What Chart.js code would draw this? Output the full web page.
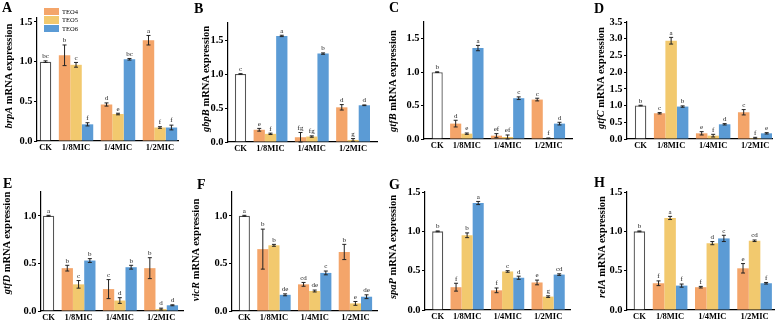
<!DOCTYPE html>
<html>
<head>
<meta charset="utf-8">
<script src="https://cdn.jsdelivr.net/npm/chart.js@4.4.1/dist/chart.umd.min.js"></script>
<style>
  body { margin: 0; background: #fff; width: 777px; height: 322px; position: relative; overflow: hidden; font-family: "Liberation Serif", serif; color: #000; }
  canvas { position: absolute; }
  .letter { position: absolute; font-weight: bold; font-size: 14px; line-height: 1; }
  .ytitle { position: absolute; font-weight: bold; font-size: 10.5px; line-height: 1; white-space: nowrap; transform: translate(-50%, -50%) rotate(-90deg); }
  .legend { position: absolute; left: 44px; top: 7px; font-size: 6.5px; }
  .legend div { display: flex; align-items: center; height: 8.5px; }
  .legend span { display: inline-block; width: 15px; height: 7.5px; margin-right: 3px; }
</style>
</head>
<body>
<script>
// ================= DATA =================
const categories = ['CK', '1/8MIC', '1/4MIC', '1/2MIC'];
const series = ['TEO4', 'TEO5', 'TEO6'];
const genes = ['brpA', 'gbpB', 'gtfB', 'gtfC', 'gtfD', 'vicR', 'spaP', 'relA'];
const panelLetters = ['A', 'B', 'C', 'D', 'E', 'F', 'G', 'H'];

const ckMean = [1, 1, 1, 1, 1, 1, 1, 1];
const ckErr = [0.01, 0.005, 0.005, 0.01, 0.005, 0.005, 0.005, 0.005];
const ckLetters = ['bc', 'c', 'b', 'b', 'a', 'a', 'b', 'b'];

// rows: TEO4, TEO5, TEO6 ; columns: 1/8MIC, 1/4MIC, 1/2MIC
const brpAMean = [[1.08, 0.46, 1.27], [0.96, 0.34, 0.17], [0.21, 1.03, 0.17]];
const brpAErr = [[0.13, 0.02, 0.06], [0.03, 0.01, 0.01], [0.02, 0.01, 0.03]];
const brpALetters = [['b', 'd', 'a'], ['c', 'e', 'f'], ['f', 'bc', 'f']];

const gbpBMean = [[0.18, 0.07, 0.51], [0.12, 0.08, 0.03], [1.56, 1.30, 0.54]];
const gbpBErr = [[0.02, 0.07, 0.04], [0.01, 0.01, 0.02], [0.01, 0.01, 0.005]];
const gbpBLetters = [['e', 'fg', 'd'], ['f', 'fg', 'g'], ['a', 'b', 'd']];

const gtfBMean = [[0.23, 0.05, 0.59], [0.08, 0.03, 0.01], [1.36, 0.61, 0.23]];
const gtfBErr = [[0.05, 0.03, 0.02], [0.01, 0.03, 0.005], [0.04, 0.02, 0.02]];
const gtfBLetters = [['d', 'ef', 'c'], ['e', 'ef', 'f'], ['a', 'c', 'd']];

const gtfCMean = [[0.77, 0.17, 0.80], [2.94, 0.10, 0.03], [0.97, 0.44, 0.17]];
const gtfCErr = [[0.02, 0.05, 0.08], [0.10, 0.04, 0.02], [0.02, 0.02, 0.02]];
const gtfCLetters = [['c', 'e', 'c'], ['a', 'f', 'f'], ['b', 'd', 'e']];

const gtfDMean = [[0.45, 0.23, 0.45], [0.28, 0.11, 0.02], [0.53, 0.46, 0.06]];
const gtfDErr = [[0.03, 0.10, 0.11], [0.04, 0.03, 0.01], [0.02, 0.02, 0.005]];
const gtfDLetters = [['b', 'c', 'b'], ['c', 'd', 'd'], ['b', 'b', 'd']];

const vicRMean = [[0.65, 0.28, 0.62], [0.69, 0.21, 0.08], [0.17, 0.40, 0.15]];
const vicRErr = [[0.21, 0.02, 0.08], [0.01, 0.01, 0.02], [0.01, 0.02, 0.02]];
const vicRLetters = [['b', 'cd', 'b'], ['b', 'de', 'e'], ['de', 'c', 'de']];

const spaPMean = [[0.29, 0.25, 0.35], [0.95, 0.49, 0.17], [1.36, 0.41, 0.45]];
const spaPErr = [[0.05, 0.03, 0.03], [0.03, 0.01, 0.01], [0.02, 0.02, 0.01]];
const spaPLetters = [['f', 'f', 'e'], ['b', 'c', 'g'], ['a', 'd', 'cd']];

const relAMean = [[0.34, 0.29, 0.53], [1.17, 0.85, 0.88], [0.31, 0.91, 0.34]];
const relAErr = [[0.03, 0.01, 0.06], [0.02, 0.02, 0.01], [0.02, 0.04, 0.01]];
const relALetters = [['f', 'f', 'e'], ['a', 'd', 'cd'], ['f', 'c', 'f']];

const yMax = [1.55, 1.75, 1.75, 3.5, 1.25, 1.25, 1.5, 1.5];
const yTicksShort = [0, 0.5, 1.0];
const yTicksMid = [0, 0.5, 1.0, 1.5];
const yTicksLong = [0, 0.5, 1.0, 1.5, 2.0, 2.5, 3.0, 3.5];
const yTicks = [yTicksMid, yTicksMid, yTicksMid, yTicksLong, yTicksShort, yTicksShort, yTicksMid, yTicksMid];

const means = [brpAMean, gbpBMean, gtfBMean, gtfCMean, gtfDMean, vicRMean, spaPMean, relAMean];
const errs = [brpAErr, gbpBErr, gtfBErr, gtfCErr, gtfDErr, vicRErr, spaPErr, relAErr];
const sigLetters = [brpALetters, gbpBLetters, gtfBLetters, gtfCLetters, gtfDLetters, vicRLetters, spaPLetters, relALetters];

// ================= LAYOUT =================
const colors = ['#F4A56A', '#F2C96E', '#5B9BD5'];
// page px: axis x, top of y range, zero line, right end, x range (category units), title x, title y
const frames = [
  [37, 18, 141, 178, 0.07, 3.43, 9, 76],
  [228, 23, 142, 377, -0.03, 3.58, 206, 79],
  [424, 22, 139, 572, -0.05, 3.58, 393, 81],
  [627, 22, 139, 772, -0.05, 3.40, 601, 78],
  [41, 192, 311, 183, 0.09, 3.53, 7, 243],
  [232, 192, 311, 377, -0.03, 3.53, 196, 250],
  [425, 192, 310, 570, -0.04, 3.54, 393, 247],
  [627, 192, 310, 774, -0.02, 3.46, 602, 247]
];
const letterPos = [[2, 1], [194, 2], [389, 1], [594, 2], [3, 177], [197, 178], [389, 178], [594, 176]];
const YW = 34, PT = 10, XH = 16, PR = 3;
const serif = 'Liberation Serif';

// ================= PLUGINS =================
const errorBars = {
  id: 'errorBars',
  afterDatasetsDraw(chart) {
    const {ctx, scales: {y}} = chart;
    ctx.save();
    ctx.strokeStyle = '#222'; ctx.fillStyle = '#222'; ctx.lineWidth = 1;
    ctx.font = '7px "' + serif + '"'; ctx.textAlign = 'center'; ctx.textBaseline = 'bottom';
    chart.data.datasets.forEach((ds, d) => {
      chart.getDatasetMeta(d).data.forEach((bar, i) => {
        const v = ds.data[i].y, e = ds.errors[i];
        const yt = y.getPixelForValue(v + e), yb = y.getPixelForValue(Math.max(v - e, 0));
        ctx.beginPath();
        ctx.moveTo(bar.x, yt); ctx.lineTo(bar.x, yb);
        ctx.moveTo(bar.x - 2, yt); ctx.lineTo(bar.x + 2, yt);
        ctx.moveTo(bar.x - 2, yb); ctx.lineTo(bar.x + 2, yb);
        ctx.stroke();
        ctx.fillText(ds.letters[i], bar.x, yt - 1);
      });
    });
    ctx.restore();
  }
};

// category names under the bars of each group (CK sits under its single bar)
const catLabels = {
  id: 'catLabels',
  afterDraw(chart) {
    const {ctx, chartArea} = chart;
    ctx.save();
    ctx.fillStyle = '#000'; ctx.font = 'bold 8.5px "' + serif + '"';
    ctx.textAlign = 'center'; ctx.textBaseline = 'top';
    categories.forEach((c, i) => {
      const xs = [];
      chart.data.datasets.forEach((ds, d) => ds.data.forEach((p, j) => {
        if (p.x === i) xs.push(chart.getDatasetMeta(d).data[j].x);
      }));
      ctx.fillText(c, xs.reduce((a, b) => a + b, 0) / xs.length, chartArea.bottom + 3);
    });
    ctx.restore();
  }
};

// ================= PANELS =================
genes.forEach((gene, g) => {
  const [ax, top, zero, right, xMin, xMax, titleX, titleY] = frames[g];
  const canvas = document.createElement('canvas');
  canvas.width = right - ax + YW + PR;
  canvas.height = zero - top + PT + XH;
  canvas.style.left = (ax - YW) + 'px';
  canvas.style.top = (top - PT) + 'px';
  document.body.appendChild(canvas);

  const datasets = series.map((s, k) => ({
    label: s,
    data: means[g][k].map((v, i) => ({x: i + 1, y: v})),
    errors: errs[g][k], letters: sigLetters[g][k],
    backgroundColor: colors[k], borderWidth: 0, stack: 's' + k
  }));
  // CK shares the third slot of the first category
  datasets.push({
    label: 'CK', data: [{x: 0, y: ckMean[g]}], errors: [ckErr[g]], letters: [ckLetters[g]],
    backgroundColor: '#fff', borderColor: '#555', borderWidth: 1.3, stack: 's2'
  });

  new Chart(canvas.getContext('2d'), {
    type: 'bar',
    data: {datasets},
    options: {
      responsive: false, animation: false,
      categoryPercentage: 0.82, barPercentage: 1,
      layout: {padding: {top: PT, right: PR, left: 0, bottom: 0}},
      plugins: {legend: {display: false}, tooltip: {enabled: false}},
      scales: {
        x: {
          type: 'linear', min: xMin, max: xMax, offset: false,
          afterBuildTicks: s => { s.ticks = categories.map((c, i) => ({value: i})); },
          afterFit: s => { s.height = XH; },
          grid: {display: false},
          border: {display: true, color: '#000', width: 1.2},
          ticks: {display: false}
        },
        y: {
          min: 0, max: yMax[g],
          afterBuildTicks: s => { s.ticks = yTicks[g].map(v => ({value: v})); },
          afterFit: s => { s.width = YW; },
          grid: {display: true, drawOnChartArea: false, tickLength: 3, color: '#000', lineWidth: 1},
          border: {display: true, color: '#000', width: 1.2},
          ticks: {font: {family: serif, size: 10.5, weight: 'bold'}, color: '#000', padding: 1.5, callback: v => v.toFixed(1)}
        }
      }
    },
    plugins: [errorBars, catLabels]
  });

  const title = document.createElement('div');
  title.className = 'ytitle';
  title.innerHTML = '<i>' + gene + '</i> mRNA expression';
  title.style.left = titleX + 'px';
  title.style.top = titleY + 'px';
  document.body.appendChild(title);

  const letter = document.createElement('div');
  letter.className = 'letter';
  letter.textContent = panelLetters[g];
  letter.style.left = letterPos[g][0] + 'px';
  letter.style.top = letterPos[g][1] + 'px';
  document.body.appendChild(letter);
});

// ================= LEGEND =================
const legend = document.createElement('div');
legend.className = 'legend';
legend.innerHTML = series.map((s, k) => `<div><span style="background:${colors[k]}"></span>${s}</div>`).join('');
document.body.appendChild(legend);
</script>
</body>
</html>
